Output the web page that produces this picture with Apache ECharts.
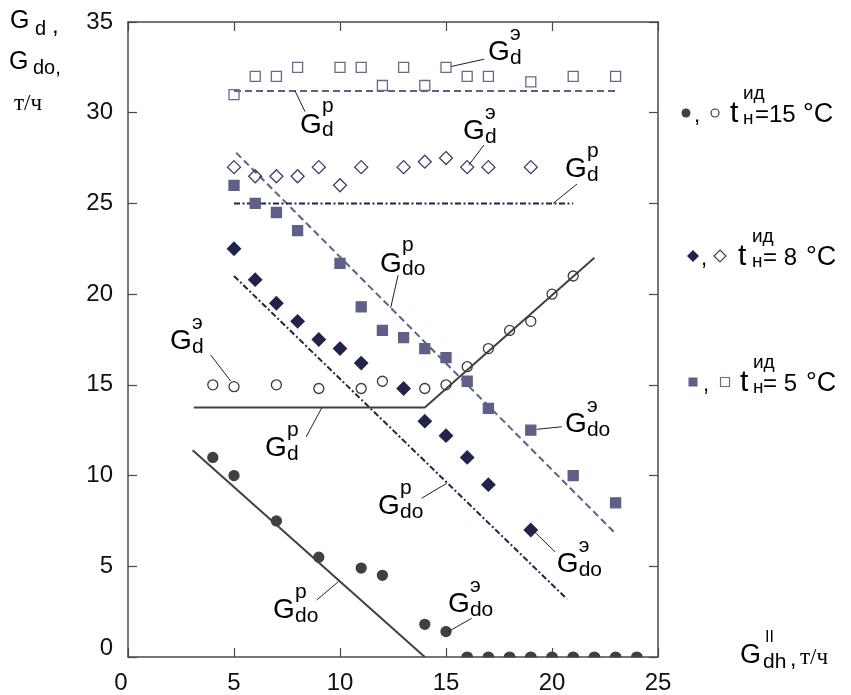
<!DOCTYPE html>
<html>
<head>
<meta charset="utf-8">
<script src="https://cdn.jsdelivr.net/npm/echarts@6/dist/echarts.min.js"></script>
<style>
  html, body { margin: 0; padding: 0; background: #fff; }
  #chart { width: 851px; height: 695px; }
</style>
</head>
<body>
<div id="chart"></div>
<script>
// axis ticks
const xTicks = [0, 5, 10, 15, 20, 25]
const yTicks = [0, 5, 10, 15, 20, 25, 30, 35]

// measured points  [G_dh, value]
// t = 15 °C : open = G_d (э), filled = G_do (э)
const t15Open = [[4, 15], [5, 14.9], [7, 15], [9, 14.8], [11, 14.8], [12, 15.2], [14, 14.8], [15, 15], [16, 16], [17, 17], [18, 18], [19, 18.5], [20, 20], [21, 21]]
const t15Filled = [[4, 11], [5, 10], [7, 7.5], [9, 5.5], [11, 4.9], [12, 4.5], [14, 1.8], [15, 1.4], [16, 0], [17, 0], [18, 0], [19, 0], [20, 0], [21, 0], [22, 0], [23, 0], [24, 0]]
// t = 8 °C
const t8Open = [[5, 27], [6, 26.5], [7, 26.5], [8, 26.5], [9, 27], [10, 26], [11, 27], [13, 27], [14, 27.3], [15, 27.5], [16, 27], [17, 27], [19, 27]]
const t8Filled = [[5, 22.5], [6, 20.8], [7, 19.5], [8, 18.5], [9, 17.5], [10, 17], [11, 16.2], [13, 14.8], [14, 13], [15, 12.2], [16, 11], [17, 9.5], [19, 7]]
// t = 5 °C
const t5Open = [[5, 31], [6, 32], [7, 32], [8, 32.5], [10, 32.5], [11, 32.5], [12, 31.5], [13, 32.5], [14, 31.5], [15, 32.5], [16, 32], [17, 32], [19, 31.7], [21, 32], [23, 32]]
const t5Filled = [[5, 26], [6, 25], [7, 24.5], [8, 23.5], [10, 21.7], [11, 19.3], [12, 18], [13, 17.6], [14, 17], [15, 16.5], [16, 15.2], [17, 13.7], [19, 12.5], [21, 10], [23, 8.5]]

// calculated lines (р)
const t15CalcD = [[3.1, 13.75], [14, 13.75], [22, 22]]
const t15CalcDo = [[3.05, 11.4], [14, 0]]
const t8CalcD = [[5, 25], [21, 25]]
const t8CalcDo = [[5, 21], [20.7, 3.2]]
const t5CalcD = [[5, 31.2], [23, 31.2]]
const t5CalcDo = [[5.1, 27.8], [23, 6.8]]

const sans = '"Liberation Sans", Arial, sans-serif'
const serif = '"Liberation Serif", "Times New Roman", serif'
const c5 = '#5d6088'
const c8 = '#20234a'
const c15 = '#404040'
const halfDot = 'path://M0,10A10,10,0,0,1,20,10Z'

const chart = echarts.init(document.getElementById('chart'))

function pts(data, symbol, size, fill, stroke) {
  return {
    type: 'scatter', data, symbol, symbolSize: size, silent: true, z: 5,
    itemStyle: { color: fill, borderColor: stroke, borderWidth: 1.3, opacity: 1 }
  }
}
function calc(data, color, type) {
  return {
    type: 'line', data, showSymbol: false, symbol: 'none', silent: true, z: 3,
    lineStyle: { color, width: 2, type }
  }
}

// points sitting on the axis are drawn as half dots
const t15FilledData = t15Filled.map(p => p[1] === 0
  ? { value: p, symbol: halfDot, symbolSize: [10, 5], symbolOffset: [0, '-50%'] }
  : p)

function axisLine() { return { show: true, onZero: false, lineStyle: { color: '#4a4a4a', width: 1.5 } } }
// negative length turns the ticks into the plot
function tick() { return { show: true, inside: false, length: -9, lineStyle: { color: '#4a4a4a', width: 1.2 } } }

const option = {
  animation: false,
  backgroundColor: '#fff',
  grid: { left: 128, top: 22, width: 530, height: 635, outerBoundsMode: 'none', containLabel: false },
  xAxis: [
    {
      type: 'value', min: xTicks[0], max: xTicks[xTicks.length - 1], interval: 5,
      axisLine: axisLine(), axisTick: tick(), splitLine: { show: false },
      axisLabel: {
        margin: 14, fontSize: 24, color: '#111', fontFamily: sans,
        formatter: v => v === 0 ? '{z|0}' : String(v),
        rich: { z: { fontSize: 24, fontFamily: sans, color: '#111', padding: [0, 14, 0, 0] } }
      }
    },
    {
      type: 'value', position: 'top', min: xTicks[0], max: xTicks[xTicks.length - 1], interval: 5,
      axisLine: axisLine(), axisTick: tick(), splitLine: { show: false }, axisLabel: { show: false }
    }
  ],
  yAxis: [
    {
      type: 'value', min: yTicks[0], max: yTicks[yTicks.length - 1], interval: 5,
      axisLine: axisLine(), axisTick: tick(), splitLine: { show: false },
      axisLabel: {
        margin: 15, fontSize: 24, color: '#111', fontFamily: sans,
        formatter: v => v === 0 ? '{z|0}' : String(v),
        rich: { z: { fontSize: 24, fontFamily: sans, color: '#111', padding: [0, 0, 18, 0] } }
      }
    },
    {
      type: 'value', position: 'right', min: yTicks[0], max: yTicks[yTicks.length - 1], interval: 5,
      axisLine: axisLine(), axisTick: tick(), splitLine: { show: false }, axisLabel: { show: false }
    }
  ],
  series: [
    calc(t5CalcD, c5, [7, 4]),
    calc(t5CalcDo, c5, [7, 4]),
    calc(t8CalcD, c8, [6, 2.5, 2, 2.5]),
    calc(t8CalcDo, c8, [6, 2.5, 2, 2.5]),
    calc(t15CalcD, c15, 'solid'),
    calc(t15CalcDo, c15, 'solid'),
    pts(t5Open, 'rect', 10, 'transparent', '#676a8e'),
    pts(t5Filled, 'rect', 10, c5, c5),
    pts(t8Open, 'diamond', 13, 'transparent', '#3c3f68'),
    pts(t8Filled, 'diamond', 13, c8, c8),
    pts(t15Open, 'circle', 10, 'transparent', '#3a3a3a'),
    pts(t15FilledData, 'circle', 10, c15, c15)
  ]
}
chart.setOption(option)

// curve labels: G with superscript (э / р) and subscript, plus leader line
const notes = [
  { at: [16.98, 33.4], sup: 'э', sub: 'd', line: [[15.25, 32.55], [16.8, 32.95]] },
  { at: [8.11, 29.4], sup: 'р', sub: 'd', line: [[7.88, 31.2], [8.35, 30.06]] },
  { at: [15.8, 29.05], sup: 'э', sub: 'd', line: [[16.08, 27.12], [16.79, 28.22]] },
  { at: [20.61, 26.95], sup: 'р', sub: 'd', line: [[20.05, 25.0], [21.18, 26.07]] },
  { at: [11.89, 21.74], sup: 'р', sub: 'do', line: [[12.39, 19.24], [12.74, 21.05]] },
  { at: [1.98, 17.47], sup: 'э', sub: 'd', line: [[3.9, 16.65], [4.85, 15.2]] },
  { at: [6.46, 11.55], sup: 'р', sub: 'd', line: [[8.4, 12.13], [9.15, 13.75]] },
  { at: [11.79, 8.38], sup: 'р', sub: 'do', line: [[13.85, 8.75], [15.03, 9.57]] },
  { at: [20.61, 12.9], sup: 'э', sub: 'do', line: [[19.28, 12.55], [20.46, 12.69]] },
  { at: [20.22, 5.18], sup: 'э', sub: 'do', line: [[19.17, 6.91], [20.14, 5.8]] },
  { at: [6.84, 2.65], sup: 'р', sub: 'do', line: [[8.9, 3.14], [9.92, 4.15]] },
  { at: [15.09, 2.98], sup: 'э', sub: 'do', line: [[15.09, 1.39], [16.21, 2.13]] }
]

function txt(x, y, text, size, font) {
  return {
    type: 'text', x, y, z: 20, silent: true,
    style: { text, font: size + 'px ' + (font || sans), fill: '#000', verticalAlign: 'middle', align: 'left' }
  }
}

const graphics = []
notes.forEach(n => {
  const p = chart.convertToPixel({ gridIndex: 0 }, n.at)
  const a = chart.convertToPixel({ gridIndex: 0 }, n.line[0])
  const b = chart.convertToPixel({ gridIndex: 0 }, n.line[1])
  graphics.push({
    type: 'line', z: 19, silent: true,
    shape: { x1: a[0], y1: a[1], x2: b[0], y2: b[1] },
    style: { stroke: '#222', lineWidth: 1 }
  })
  graphics.push(txt(p[0], p[1] + 1.3, 'G', 28))
  graphics.push(txt(p[0] + 22, p[1] - 17, n.sup, 21))
  graphics.push(txt(p[0] + 22, p[1] + 7, n.sub, 21))
})

// y axis title (top left)
graphics.push(txt(10, 21, 'G', 25))
graphics.push(txt(35, 29, 'd', 20))
graphics.push(txt(52, 26, ',', 24))
graphics.push(txt(9, 62, 'G', 25))
graphics.push(txt(33, 68, 'do,', 20))
graphics.push(txt(14, 104, 'т/ч', 23, serif))

// x axis title (bottom right)
graphics.push(txt(740, 656, 'G', 27))
graphics.push(txt(765, 638, 'II', 16))
graphics.push(txt(763, 662, 'dh', 21))
graphics.push(txt(790, 660, ',', 23))
graphics.push(txt(800, 658, 'т/ч', 23, serif))

// legend rows on the right
function legendRow(b, sym, xs, val) {
  const cy = b - 10
  const items = []
  const fill = sym.fill
  if (sym.kind === 'circle') {
    items.push({ type: 'circle', shape: { cx: xs[0], cy, r: 4.5 }, style: { fill } })
    items.push({ type: 'circle', shape: { cx: xs[2], cy, r: 4 }, style: { fill: '#fff', stroke: sym.stroke, lineWidth: 1.2 } })
  } else if (sym.kind === 'diamond') {
    const d = 6
    items.push({ type: 'polygon', shape: { points: [[xs[0], cy - d], [xs[0] + d, cy], [xs[0], cy + d], [xs[0] - d, cy]] }, style: { fill } })
    items.push({ type: 'polygon', shape: { points: [[xs[2], cy - d], [xs[2] + d, cy], [xs[2], cy + d], [xs[2] - d, cy]] }, style: { fill: '#fff', stroke: sym.stroke, lineWidth: 1.2 } })
  } else {
    const s = 9
    items.push({ type: 'rect', shape: { x: xs[0] - s / 2, y: cy - s / 2, width: s, height: s }, style: { fill } })
    items.push({ type: 'rect', shape: { x: xs[2] - s / 2, y: cy - s / 2, width: s, height: s }, style: { fill: '#fff', stroke: sym.stroke, lineWidth: 1.2 } })
  }
  items.forEach(it => { it.z = 20; it.silent = true })
  items.push(txt(xs[1], b - 7, ',', 22))
  items.push(txt(xs[3], b - 9.3, 't', 30))
  items.push(txt(xs[4], b - 29, 'ид', 19))
  items.push(txt(xs[4], b - 4, 'н', 19))
  items.push(txt(xs[5], b - 7.5, val, 24))
  items.push(txt(xs[6], b - 8.4, '°C', 27))
  return items
}
graphics.push(...legendRow(123, { kind: 'circle', fill: c15, stroke: '#3a3a3a' }, [686, 694, 715, 730, 743, 755, 803], '=15'))
graphics.push(...legendRow(266, { kind: 'diamond', fill: c8, stroke: '#3c3f68' }, [693, 701, 720, 738, 752, 763, 806], '= 8'))
graphics.push(...legendRow(392, { kind: 'rect', fill: c5, stroke: '#676a8e' }, [693, 703, 725, 740, 753, 763, 806], '= 5'))

chart.setOption({ graphic: graphics })
</script>
</body>
</html>
